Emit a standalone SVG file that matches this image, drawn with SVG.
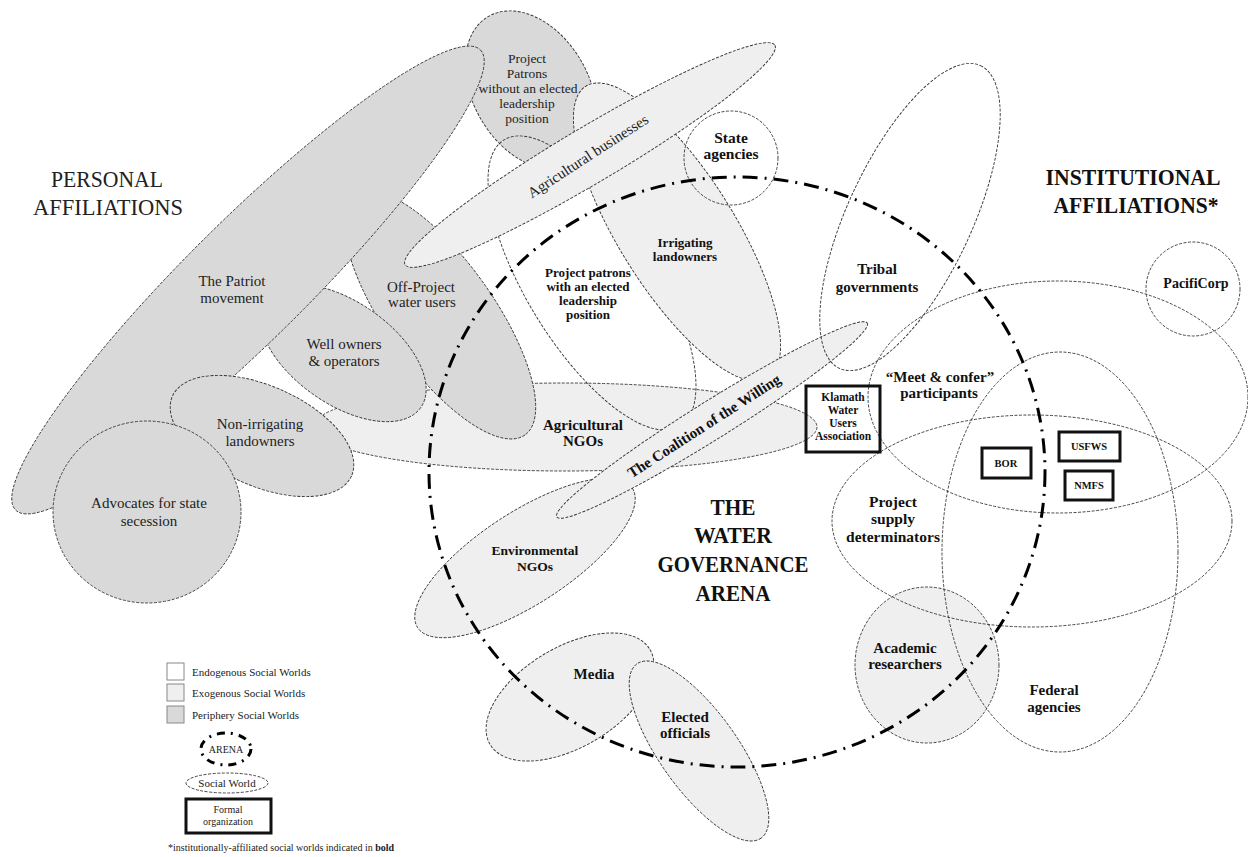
<svg xmlns="http://www.w3.org/2000/svg" width="1248" height="857" viewBox="0 0 1248 857">
<style>
.p{fill:#d9d9d9;stroke:#333;stroke-width:0.9;stroke-dasharray:3 1.5}
.x{fill:#efefef;stroke:#333;stroke-width:0.9;stroke-dasharray:3 1.5}
.e{fill:none;stroke:#333;stroke-width:0.9;stroke-dasharray:3 1.5}
.t{font-family:"Liberation Serif","Times New Roman",serif;font-size:15px;fill:#222;text-anchor:middle}
.b{font-weight:bold;fill:#111}
.s13{font-size:13px}
.s135{font-size:13.5px}
.s14{font-size:14px}
.s155{font-size:15.5px}
.s11{font-size:11.5px}
.s10{font-size:10.5px}
.ti{font-size:24px}
.ta{font-size:23px}
.org{fill:none;stroke:#111;stroke-width:3}
.arena{fill:none;stroke:#000;stroke-width:3;stroke-dasharray:15 7 2 7}
.lg{font-family:"Liberation Serif","Times New Roman",serif;font-size:11px;fill:#222}
.lg10{font-size:10px}
</style>
<rect width="1248" height="857" fill="#fff"/>

<g id="titles">
<text class="t ti" x="107" y="187" textLength="112" lengthAdjust="spacingAndGlyphs">PERSONAL</text>
<text class="t ti" x="108" y="215" textLength="150" lengthAdjust="spacingAndGlyphs">AFFILIATIONS</text>
<text class="t b ti" x="1133" y="185" textLength="175" lengthAdjust="spacingAndGlyphs">INSTITUTIONAL</text>
<text class="t b ti" x="1136" y="213" textLength="165" lengthAdjust="spacingAndGlyphs">AFFILIATIONS*</text>
<text class="t b ta" x="733" y="515" textLength="45" lengthAdjust="spacingAndGlyphs">THE</text>
<text class="t b ta" x="733" y="543" textLength="78" lengthAdjust="spacingAndGlyphs">WATER</text>
<text class="t b ta" x="733" y="572" textLength="151" lengthAdjust="spacingAndGlyphs">GOVERNANCE</text>
<text class="t b ta" x="733" y="601" textLength="75" lengthAdjust="spacingAndGlyphs">ARENA</text>
</g>

<g id="n-ag-ngos">
<ellipse class="x" cx="565" cy="427" rx="252" ry="44"/>
<text class="t b" x="583" y="430">Agricultural</text>
<text class="t b" x="583" y="446">NGOs</text>
</g>
<g id="n-off-project">
<ellipse class="p" cx="0" cy="0" rx="147" ry="54" transform="translate(440 315) rotate(54.7)"/>
<text class="t" x="421" y="292">Off-Project</text>
<text class="t" x="422" y="307">water users</text>
</g>
<g id="n-well-owners">
<ellipse class="p" cx="0" cy="0" rx="95" ry="51" transform="translate(343 353) rotate(35)"/>
<text class="t" x="344" y="349">Well owners</text>
<text class="t" x="344" y="366">&amp; operators</text>
</g>
<g id="n-patrons-without">
<ellipse class="p" cx="0" cy="0" rx="85" ry="58" transform="translate(531 90) rotate(60)"/>
<text class="t s135" x="527" y="63">Project</text>
<text class="t s135" x="527" y="78">Patrons</text>
<text class="t s135" x="528" y="93">without an elected</text>
<text class="t s135" x="527" y="108">leadership</text>
<text class="t s135" x="527" y="123">position</text>
</g>
<g id="n-patriot">
<ellipse class="p" cx="0" cy="0" rx="327" ry="60" transform="translate(248 280) rotate(-44.7)"/>
<text class="t" x="232" y="286">The Patriot</text>
<text class="t" x="232" y="303">movement</text>
</g>
<g id="n-non-irrigating">
<ellipse class="p" cx="0" cy="0" rx="98" ry="50" transform="translate(262 436) rotate(24)"/>
<text class="t" x="260" y="429">Non-irrigating</text>
<text class="t" x="260" y="446">landowners</text>
</g>
<g id="n-secession">
<ellipse class="p" cx="147" cy="512" rx="94" ry="91"/>
<text class="t" x="149" y="508">Advocates for state</text>
<text class="t" x="149" y="526">secession</text>
</g>
<g id="n-patrons-with">
<ellipse class="e" cx="0" cy="0" rx="168" ry="65" transform="translate(592 283) rotate(58.4)"/>
<text class="t b s13" x="588" y="277">Project patrons</text>
<text class="t b s13" x="588" y="291">with an elected</text>
<text class="t b s13" x="588" y="305">leadership</text>
<text class="t b s13" x="588" y="319">position</text>
</g>
<g id="n-irrigating">
<ellipse class="x" cx="0" cy="0" rx="172" ry="58" transform="translate(677 232) rotate(58)"/>
<text class="t b s13" x="685" y="247">Irrigating</text>
<text class="t b s13" x="685" y="261">landowners</text>
</g>
<g id="n-ag-business">
<ellipse class="x" cx="0" cy="0" rx="215" ry="28" transform="translate(590 155) rotate(-30.7)"/>
<text class="t" x="0" y="5" transform="translate(588 156) rotate(-33)">Agricultural businesses</text>
</g>
<g id="n-env-ngos">
<ellipse class="x" cx="0" cy="0" rx="128" ry="46" transform="translate(525 558) rotate(-33)"/>
<text class="t b s135" x="535" y="555">Environmental</text>
<text class="t b s135" x="535" y="571">NGOs</text>
</g>
<g id="n-coalition">
<ellipse class="x" cx="0" cy="0" rx="183" ry="19" transform="translate(712 420) rotate(-32)"/>
<text class="t b" x="0" y="5" transform="translate(704 426) rotate(-32.8)">The Coalition of the Willing</text>
</g>
<g id="n-media">
<ellipse class="x" cx="0" cy="0" rx="93" ry="50" transform="translate(570 697) rotate(-30.7)"/>
<text class="t b" x="594" y="679">Media</text>
</g>
<g id="n-elected">
<ellipse class="x" cx="0" cy="0" rx="107" ry="39" transform="translate(699 751) rotate(54.5)"/>
<text class="t b" x="685" y="722">Elected</text>
<text class="t b" x="685" y="738">officials</text>
</g>
<g id="n-academic">
<ellipse class="x" cx="927" cy="665" rx="72" ry="78"/>
<text class="t b" x="905" y="653">Academic</text>
<text class="t b" x="905" y="669">researchers</text>
</g>
<g id="n-state">
<circle class="e" cx="731" cy="158" r="47"/>
<text class="t b s155" x="731" y="143">State</text>
<text class="t b s155" x="731" y="159">agencies</text>
</g>
<g id="n-tribal">
<ellipse class="e" cx="0" cy="0" rx="167" ry="62" transform="translate(910 217) rotate(-65)"/>
<text class="t b" x="877" y="274">Tribal</text>
<text class="t b" x="877" y="292">governments</text>
</g>
<g id="n-meet-confer">
<ellipse class="e" cx="1058" cy="397" rx="190" ry="116"/>
<text class="t b" x="940" y="382">“Meet &amp; confer”</text>
<text class="t b" x="939" y="398">participants</text>
</g>
<g id="n-supply">
<ellipse class="e" cx="1032" cy="521" rx="200" ry="106"/>
<text class="t b s155" x="893" y="507">Project</text>
<text class="t b s155" x="893" y="524">supply</text>
<text class="t b s155" x="893" y="542">determinators</text>
</g>
<g id="n-federal">
<ellipse class="e" cx="1060" cy="552" rx="118" ry="200"/>
<text class="t b" x="1054" y="695">Federal</text>
<text class="t b" x="1054" y="712">agencies</text>
</g>
<g id="n-pacificorp">
<circle class="e" cx="1193" cy="289" r="47"/>
<text class="t b s14" x="1196" y="288">PacifiCorp</text>
</g>
<g id="n-kwua">
<rect class="org" x="806" y="386" width="74" height="66"/>
<text class="t b s11" x="843" y="401">Klamath</text>
<text class="t b s11" x="843" y="414">Water</text>
<text class="t b s11" x="843" y="427">Users</text>
<text class="t b s11" x="843" y="440">Association</text>
</g>
<g id="n-bor">
<rect class="org" x="982" y="448" width="49" height="30"/>
<text class="t b s10" x="1006" y="467">BOR</text>
</g>
<g id="n-usfws">
<rect class="org" x="1059" y="432" width="61" height="29"/>
<text class="t b s10" x="1089" y="450">USFWS</text>
</g>
<g id="n-nmfs">
<rect class="org" x="1065" y="471" width="48" height="29"/>
<text class="t b s10" x="1089" y="489">NMFS</text>
</g>
<g id="n-arena">
<ellipse class="arena" cx="737" cy="472" rx="308" ry="295"/>
</g>
<g id="connectors"></g>

<g id="legend">
<rect x="167" y="663" width="17" height="17" fill="#fff" stroke="#888"/>
<rect x="167" y="684" width="17" height="17" fill="#efefef" stroke="#888"/>
<rect x="167" y="706" width="17" height="17" fill="#d9d9d9" stroke="#888"/>
<text class="lg" x="192" y="676">Endogenous Social Worlds</text>
<text class="lg" x="192" y="697">Exogenous Social Worlds</text>
<text class="lg" x="192" y="719">Periphery Social Worlds</text>
<ellipse cx="226" cy="749" rx="25" ry="16" fill="none" stroke="#000" stroke-width="3" stroke-dasharray="8 6 2 6"/>
<text class="lg lg10" x="226" y="753" text-anchor="middle">ARENA</text>
<ellipse cx="227" cy="783" rx="41" ry="10" fill="none" stroke="#333" stroke-width="0.9" stroke-dasharray="3 1.5"/>
<text class="lg" x="227" y="787" text-anchor="middle">Social World</text>
<rect x="186" y="799" width="85" height="34" fill="none" stroke="#111" stroke-width="3"/>
<text class="lg lg10" x="228" y="813" text-anchor="middle">Formal</text>
<text class="lg lg10" x="228" y="825" text-anchor="middle">organization</text>
<text class="lg lg10" x="168" y="851">*institutionally-affiliated social worlds indicated in <tspan font-weight="bold">bold</tspan></text>
</g>
</svg>
